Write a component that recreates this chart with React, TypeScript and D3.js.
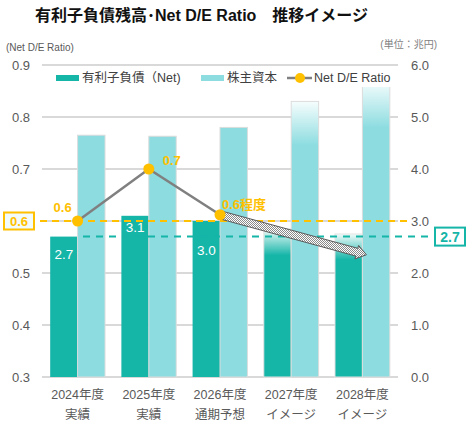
import React from 'react';
import * as d3 from 'd3';

const categories = ['2024', '2025', '2026', '2027', '2028'];
const catLine1 = ['2024年度', '2025年度', '2026年度', '2027年度', '2028年度'];
const catLine2 = ['実績', '実績', '通期予想', 'イメージ', 'イメージ'];
const netDebt = [2.7, 3.1, 3.0, 2.85, 2.75];
const equity = [4.65, 4.63, 4.8, 5.3, 5.7];
const netDebtLabels = ['2.7', '3.1', '3.0', '', ''];
const ratio = [0.6, 0.7, 0.612];
const ratioLabels = ['0.6', '0.7', '0.6程度'];
const projected = [false, false, false, true, true];
const arrowTo = { cat: '2028', value: 0.535 };
const refRatio = 0.6;
const refDebt = 2.7;
const leftTicks = [0.3, 0.4, 0.5, 0.6, 0.7, 0.8, 0.9];
const rightTicks = [0, 1, 2, 3, 4, 5, 6];

const TEAL = '#15B5A8';
const CYAN = '#8CDCE0';
const GOLD = '#FFC000';
const FONT = '"Liberation Sans", Arial, "Noto Sans CJK JP", sans-serif';

const W = 470;
const H = 440;
const left = 42;
const right = 398;
const top = 65;
const bottom = 377;

// label offsets below bar tops (as placed in the original)
const labelDy = [18, 11, 29];

export default function App() {
  const x = d3.scaleBand().domain(categories).range([left, right]).paddingInner(0.23).paddingOuter(0.115);
  const xs = d3.scaleBand().domain(['net', 'equity']).range([0, x.bandwidth()]);
  const yL = d3.scaleLinear().domain([0.3, 0.9]).range([bottom, top]);
  const yR = d3.scaleLinear().domain([0, 6]).range([bottom, top]);
  const cx = (c: string) => (x(c) as number) + x.bandwidth() / 2;

  const linePts: [number, number][] = ratio.map((v, i) => [cx(categories[i]), yL(v)]);
  const line = d3.line();

  // hatched arrow
  const [sx, sy] = linePts[2];
  const ex = cx(arrowTo.cat) + 4;
  const ey = yL(arrowTo.value);
  const len = Math.hypot(ex - sx, ey - sy);
  const ux = (ex - sx) / len;
  const uy = (ey - sy) / len;
  const nx = -uy;
  const ny = ux;
  const hw = 4;
  const hh = 7;
  const hl = 10;
  const bx = ex - ux * hl;
  const by = ey - uy * hl;
  const arrow = [
    [sx + nx * hw, sy + ny * hw],
    [bx + nx * hw, by + ny * hw],
    [bx + nx * hh, by + ny * hh],
    [ex, ey],
    [bx - nx * hh, by - ny * hh],
    [bx - nx * hw, by - ny * hw],
    [sx - nx * hw, sy - ny * hw],
  ].map((p) => p.join(',')).join(' ');

  return (
    <svg width={W} height={H} style={{ position: 'absolute', left: 0, top: 0, fontFamily: FONT }}>
      <defs>
        <linearGradient id="gNet" x1="0" y1="0" x2="0" y2="1">
          <stop offset="0" stopColor="#f0fbfa" />
          <stop offset="0.18" stopColor={TEAL} />
          <stop offset="1" stopColor={TEAL} />
        </linearGradient>
        <linearGradient id="gEq" x1="0" y1="0" x2="0" y2="1">
          <stop offset="0" stopColor="#f6fdfd" />
          <stop offset="0.16" stopColor={CYAN} />
          <stop offset="1" stopColor={CYAN} />
        </linearGradient>
        <pattern id="hatch" width="2" height="2" patternUnits="userSpaceOnUse">
          <rect width="2" height="2" fill="#ffffff" />
          <rect width="1" height="1" fill="#8a8a8a" />
          <rect x="1" y="1" width="1" height="1" fill="#8a8a8a" />
        </pattern>
      </defs>
      <rect width={W} height={H} fill="#fff" />

      <text x={35} y={21} fontSize={16} fontWeight="bold" fill="#111">
        有利子負債残高･Net D/E Ratio　推移イメージ
      </text>
      <text x={6} y={51} fontSize={10} fill="#595959">(Net D/E Ratio)</text>
      <text x={437} y={48} fontSize={10} fill="#7f7f7f" textAnchor="end">(単位：兆円)</text>

      {leftTicks.map((t) => (
        <g key={t}>
          <line x1={left} x2={right} y1={yL(t)} y2={yL(t)} stroke="#d9d9d9" strokeWidth={2} />
          {t !== refRatio && (
            <text x={30} y={yL(t)} dy="0.35em" fontSize={13} fill="#595959" textAnchor="end">
              {t.toFixed(1)}
            </text>
          )}
        </g>
      ))}
      {rightTicks.map((t) => (
        <text key={t} x={411} y={yR(t)} dy="0.35em" fontSize={13} fill="#595959">
          {t.toFixed(1)}
        </text>
      ))}

      {categories.map((c, i) => (
        <g key={c}>
          <rect
            x={(x(c) as number) + (xs('net') as number)}
            y={yR(netDebt[i])}
            width={xs.bandwidth()}
            height={bottom - yR(netDebt[i])}
            fill={projected[i] ? 'url(#gNet)' : TEAL}
            stroke={projected[i] ? '#e3e3e3' : 'none'}
            strokeWidth={1}
          />
          <rect
            x={(x(c) as number) + (xs('equity') as number)}
            y={yR(equity[i])}
            width={xs.bandwidth()}
            height={bottom - yR(equity[i])}
            fill={projected[i] ? 'url(#gEq)' : CYAN}
            stroke="#dcdcdc"
            strokeWidth={1}
          />
          {netDebtLabels[i] && (
            <text
              x={(x(c) as number) + (xs('net') as number) + xs.bandwidth() / 2}
              y={yR(netDebt[i]) + labelDy[i]}
              dy="0.35em"
              fontSize={13.5}
              fill="#fff"
              textAnchor="middle"
            >
              {netDebtLabels[i]}
            </text>
          )}
          <text x={cx(c)} y={395} dy="0.35em" fontSize={12.5} fill="#595959" textAnchor="middle">
            {catLine1[i]}
          </text>
          <text x={cx(c)} y={415} dy="0.35em" fontSize={12.5} fill="#595959" textAnchor="middle">
            {catLine2[i]}
          </text>
        </g>
      ))}

      {/* reference lines */}
      <line x1={40} x2={408} y1={yL(refRatio)} y2={yL(refRatio)} stroke={GOLD} strokeWidth={2} strokeDasharray="7,5" />
      <line x1={83} x2={432} y1={yR(refDebt)} y2={yR(refDebt)} stroke={TEAL} strokeWidth={2} strokeDasharray="7,6" />
      <rect x={4} y={yL(refRatio) - 8.5} width={30} height={17} fill="#f2fbfb" stroke={GOLD} strokeWidth={2} />
      <text x={19} y={yL(refRatio)} dy="0.37em" fontSize={13} fontWeight="bold" fill={GOLD} textAnchor="middle">
        {refRatio.toFixed(1)}
      </text>
      <rect x={435} y={yR(refDebt) - 9} width={30} height={18} fill="#fff" stroke={TEAL} strokeWidth={2} />
      <text x={450} y={yR(refDebt)} dy="0.37em" fontSize={14} fontWeight="bold" fill={TEAL} textAnchor="middle">
        {refDebt.toFixed(1)}
      </text>

      {/* ratio line */}
      <polygon points={arrow} fill="url(#hatch)" stroke="#5a5a5a" strokeWidth={1} />
      <path d={line(linePts) || ''} fill="none" stroke="#808080" strokeWidth={2.5} />
      {linePts.map(([px, py], i) => (
        <circle key={i} cx={px} cy={py} r={5.5} fill={GOLD} />
      ))}
      <text x={linePts[0][0] - 15} y={207} dy="0.35em" fontSize={13} fontWeight="bold" fill={GOLD} textAnchor="middle">
        {ratioLabels[0]}
      </text>
      <text x={linePts[1][0] + 23} y={160} dy="0.35em" fontSize={13} fontWeight="bold" fill={GOLD} textAnchor="middle">
        {ratioLabels[1]}
      </text>
      <text x={linePts[2][0] + 2} y={204} dy="0.35em" fontSize={13} fontWeight="bold" fill={GOLD}>
        {ratioLabels[2]}
      </text>

      {/* legend */}
      <rect x={50} y={69} width={345} height={18} fill="#fff" />
      <rect x={56} y={75} width={23} height={6} fill={TEAL} />
      <text x={82} y={78} dy="0.35em" fontSize={12.5} fill="#404040">有利子負債（Net)</text>
      <rect x={201} y={75} width={23} height={6} fill={CYAN} />
      <text x={227} y={78} dy="0.35em" fontSize={12.5} fill="#404040">株主資本</text>
      <line x1={287} x2={312} y1={78} y2={78} stroke="#808080" strokeWidth={2.5} />
      <circle cx={300} cy={78} r={5} fill={GOLD} />
      <text x={314} y={78} dy="0.35em" fontSize={12.5} fill="#404040">Net D/E Ratio</text>
    </svg>
  );
}
